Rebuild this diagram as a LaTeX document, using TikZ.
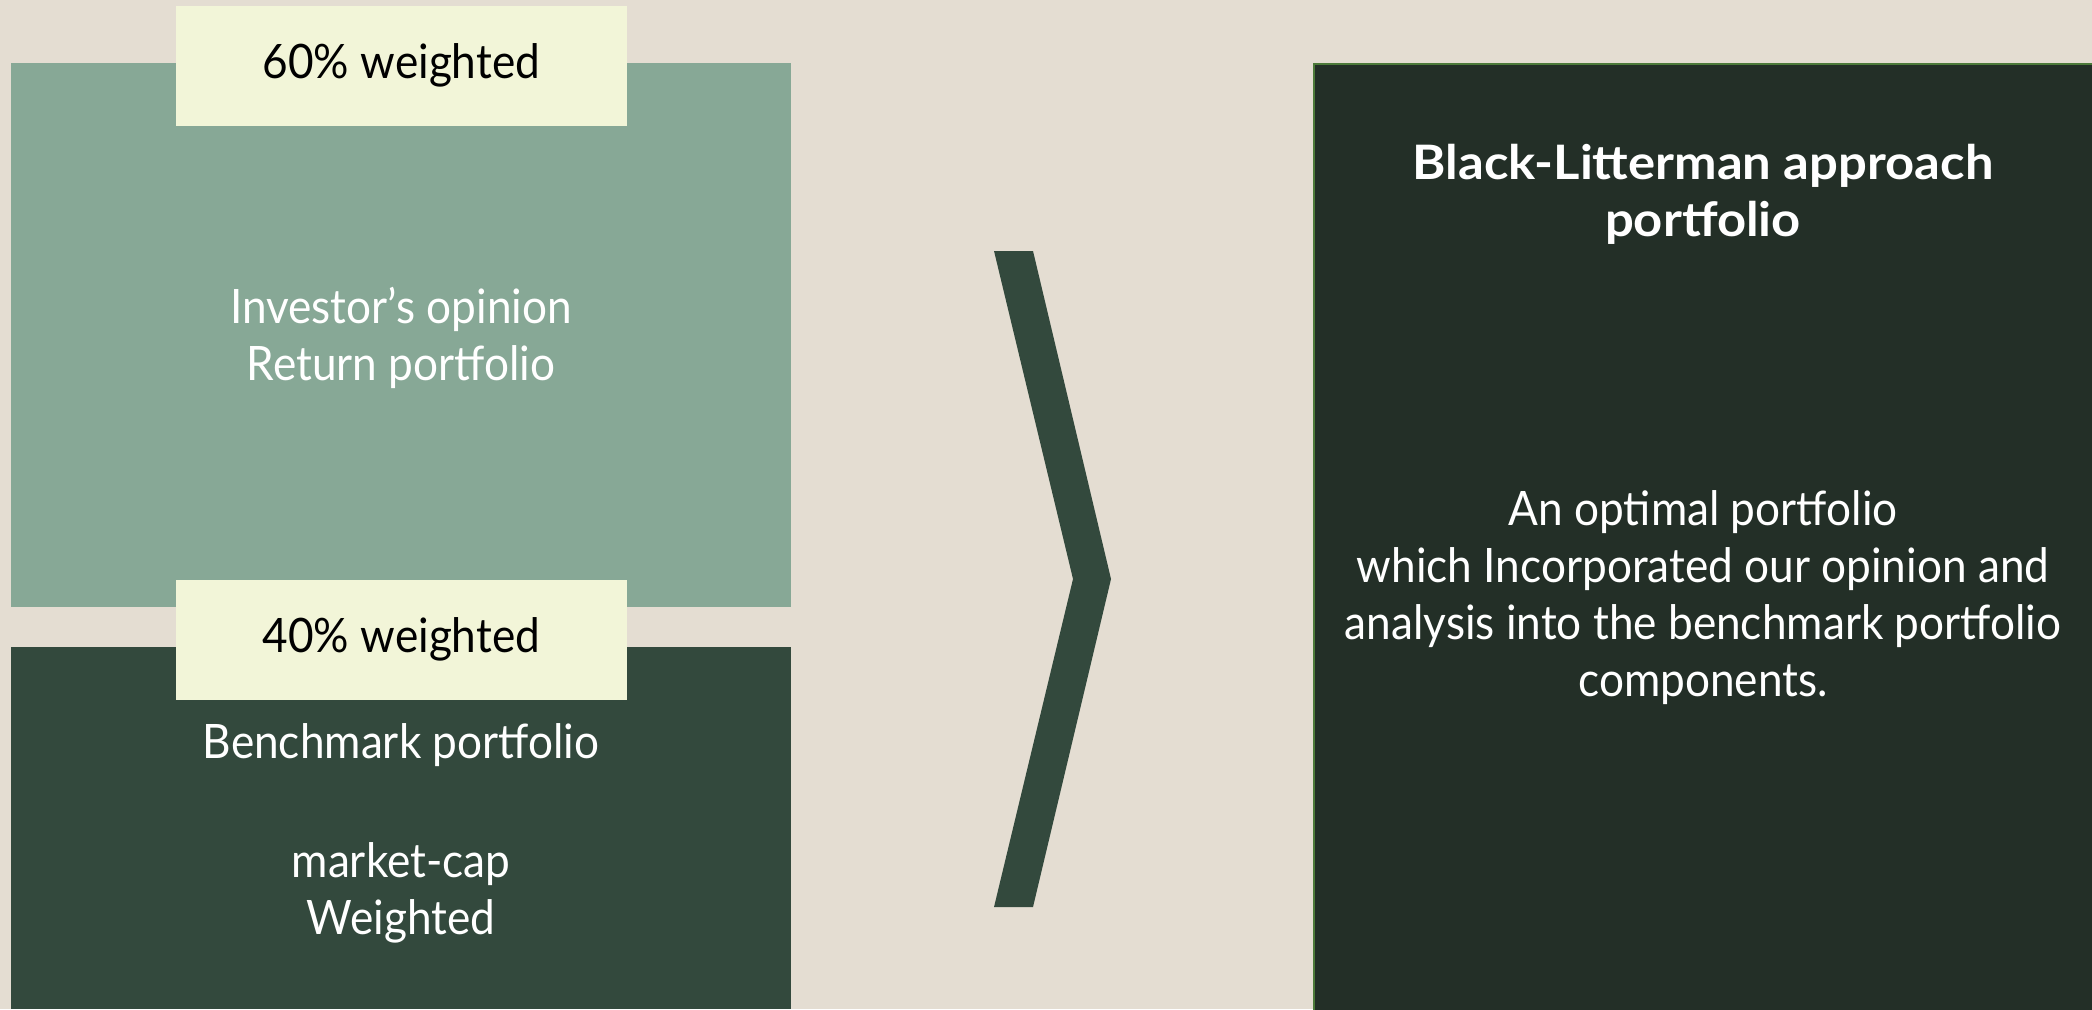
\documentclass[tikz,border=0pt]{standalone}
\usepackage{fontspec}
\setmainfont{Lato}[FakeStretch=0.93]
\newfontfamily\titlefont{Lato}[FakeStretch=1.07]
\definecolor{bg}{HTML}{E4DDD2}
\definecolor{sage}{HTML}{87A896}
\definecolor{cream}{HTML}{F2F5D8}
\definecolor{forest}{HTML}{33493D}
\definecolor{night}{HTML}{232F27}
\definecolor{edge}{HTML}{4C7A3A}
\tikzset{
  panel/.style={anchor=north west, inner sep=0pt, outer sep=0pt, draw=none},
  tag/.style={anchor=north west, inner sep=0pt, fill=cream, text=black, minimum width=4.51cm, minimum height=1.20cm, font=\fontsize{13.5}{16}\selectfont},
  body/.style={align=center, text=white, inner sep=0pt, font=\fontsize{13.5}{16}\selectfont},
}
\begin{document}
\begin{tikzpicture}[x=0.01cm,y=-0.01cm]
\fill[bg] (0,0) rectangle (2092,1009);
\useasboundingbox (0,0) rectangle (2092,1009);
% left panels
\node[panel, fill=sage, minimum width=7.80cm, minimum height=5.44cm] (top) at (11,63) {};
\node[panel, fill=forest, minimum width=7.80cm, minimum height=3.62cm] (bottom) at (11,647) {};
\node[tag] (t60) at (175,5) {\raisebox{-1.2pt}{60\% weighted}};
\node[tag] (t40) at (175,579) {\raisebox{-1.2pt}{40\% weighted}};
\node[body] (topText) at (401,338) {Investor’s opinion\\Return portfolio};
\node[body] (botText) at (401,833) {Benchmark portfolio\\[18pt]market-cap\\Weighted};
% chevron
\fill[forest] (994,251) -- (1033,251) -- (1111,579) -- (1033,907) -- (994,907) -- (1073,579) -- cycle;
% right panel
\node[panel, fill=night, draw=edge, line width=0.6pt, minimum width=7.90cm, minimum height=9.60cm] (result) at (1314,64) {};
\node[body, font=\fontsize{13.5}{16.2}\selectfont\titlefont\bfseries] (title) at (1703,194) {Black-Litterman approach\\portfolio};
\node[body, font=\fontsize{13.5}{16.2}\selectfont] (desc) at (1703,598) {An optimal portfolio\\which Incorporated our opinion and\\analysis into the benchmark portfolio\\components.};
\end{tikzpicture}
\end{document}
